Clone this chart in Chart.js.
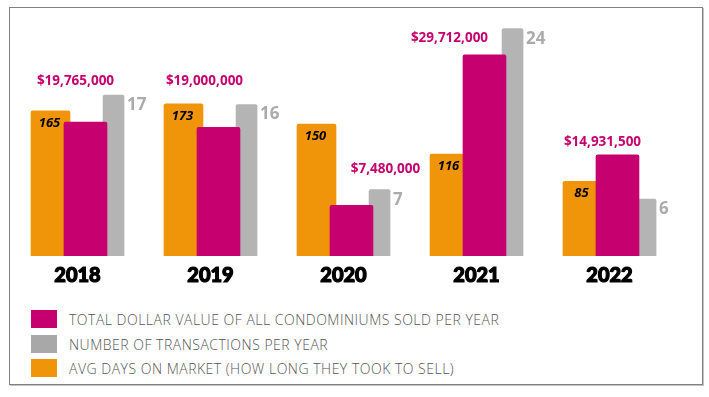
<!DOCTYPE html>
<html>
<head>
<meta charset="utf-8">
<script src="https://cdn.jsdelivr.net/npm/chart.js@4.4.1/dist/chart.umd.min.js"></script>
<style>
  html, body { margin: 0; padding: 0; background: #fff; }
  #wrap { position: relative; width: 709px; height: 397px; overflow: hidden; }
  #frame { position: absolute; left: 9px; top: 7px; width: 692px; height: 376px;
           border: 1px solid #808080; box-shadow: 1px 1px 0 #c4c4c4; }
  #chart { position: absolute; left: 0; top: 0; }
  .legend-row { position: absolute; left: 31px; height: 18px; display: flex; align-items: center;
                font-family: "Open Sans", sans-serif; font-weight: 300; font-size: 14px;
                letter-spacing: 0.5px; color: #555; }
  .legend-row span.box { display: inline-block; width: 26px; height: 18px; margin-right: 12px; }
</style>
</head>
<body>
<div id="wrap">
  <div id="frame"></div>
  <canvas id="chart" width="709" height="300"></canvas>
  <div id="legend"></div>
</div>
<script>
const years = ['2018', '2019', '2020', '2021', '2022'];
const dollarValue = [19765000, 19000000, 7480000, 29712000, 14931500];
const transactions = [17, 16, 7, 24, 6];
const avgDays = [165, 173, 150, 116, 85];

const seriesNames = [
    'TOTAL DOLLAR VALUE OF ALL CONDOMINIUMS SOLD PER YEAR',
    'NUMBER OF TRANSACTIONS PER YEAR',
    'AVG DAYS ON MARKET (HOW LONG THEY TOOK TO SELL)'
];

const MAGENTA = '#c6006e';
const GREY = '#b4b4b4';
const ORANGE = '#f0940a';

// where each series sits inside its year slot, in category widths
const shift = { dollar: 0.06, trans: 0.271, days: -0.203 };
// hand placement of the dollar labels, relative to the top of the magenta bar
const dollarNudge = [[-10, -41], [-14, -46], [34, -36], [-35, -17], [-15, -13]];

function pts(values) {
    return values.map((v, i) => ({ x: i, y: v }));
}

function slotAxis(s) {
    return { type: 'linear', display: false, offset: false, min: -0.5 - s, max: years.length - 0.5 - s };
}

const money = v => '$' + v.toLocaleString('en-US');

const valueLabels = {
    id: 'valueLabels',
    afterDatasetsDraw(chart) {
        const ctx = chart.ctx;
        ctx.save();
        ctx.textBaseline = 'middle';
        // dollar labels
        chart.getDatasetMeta(0).data.forEach((bar, i) => {
            ctx.font = 'bold 13.5px "Open Sans"';
            ctx.fillStyle = MAGENTA;
            ctx.textAlign = 'center';
            ctx.fillText(money(dollarValue[i]), bar.x + dollarNudge[i][0], bar.y + dollarNudge[i][1]);
        });
        // transactions
        chart.getDatasetMeta(1).data.forEach((bar, i) => {
            ctx.font = 'bold 17px "Open Sans"';
            ctx.fillStyle = '#ababab';
            ctx.textAlign = 'left';
            ctx.fillText(String(transactions[i]), bar.x + bar.width / 2 + 3, bar.y + 10);
        });
        // days on market
        chart.getDatasetMeta(2).data.forEach((bar, i) => {
            ctx.font = 'italic bold 13px "Open Sans"';
            ctx.fillStyle = '#000';
            ctx.textAlign = 'center';
            ctx.fillText(String(avgDays[i]), bar.x - 1, bar.y + 12);
        });
        ctx.restore();
    }
};

new Chart(document.getElementById('chart'), {
    type: 'bar',
    data: {
        labels: years,
        datasets: [{
            label: seriesNames[0],
            data: pts(dollarValue),
            backgroundColor: MAGENTA,
            xAxisID: 'xm', yAxisID: 'ym',
            barThickness: 43, borderRadius: 2, grouped: false
        }, {
            label: seriesNames[1],
            data: pts(transactions),
            backgroundColor: GREY,
            xAxisID: 'xg', yAxisID: 'yg',
            barThickness: 21, borderRadius: 2, grouped: false
        }, {
            label: seriesNames[2],
            data: pts(avgDays),
            backgroundColor: ORANGE,
            xAxisID: 'xo', yAxisID: 'yo',
            barThickness: 39, borderRadius: 2, grouped: false
        }]
    },
    options: {
        responsive: false,
        animation: false,
        layout: { padding: { left: 11, right: 33, top: 23, bottom: 4 } },
        plugins: { legend: { display: false }, tooltip: { enabled: false } },
        scales: {
            x: {
                type: 'category',
                offset: true,
                grid: { display: false, drawTicks: false },
                border: { display: false },
                ticks: {
                    color: '#000', padding: 8,
                    textStrokeColor: '#000', textStrokeWidth: 1.2,
                    font: { family: 'Lato', size: 20, weight: 900 }
                }
            },
            xm: slotAxis(shift.dollar),
            xg: slotAxis(shift.trans),
            xo: slotAxis(shift.days),
            ym: { display: false, min: 0, max: 34.4e6 },
            yg: { display: false, min: 0, max: 24.6 },
            yo: { display: false, min: 0, max: 265 }
        }
    },
    plugins: [valueLabels]
});

// legend, one row per series
const legendColors = [MAGENTA, '#a8a8a8', ORANGE];
const rowTops = [310, 335, 359];
const legend = document.getElementById('legend');
seriesNames.forEach((name, i) => {
    const row = document.createElement('div');
    row.className = 'legend-row';
    row.style.top = rowTops[i] + 'px';
    row.innerHTML = '<span class="box" style="background:' + legendColors[i] + '"></span>' + name;
    legend.appendChild(row);
});
</script>
</body>
</html>
